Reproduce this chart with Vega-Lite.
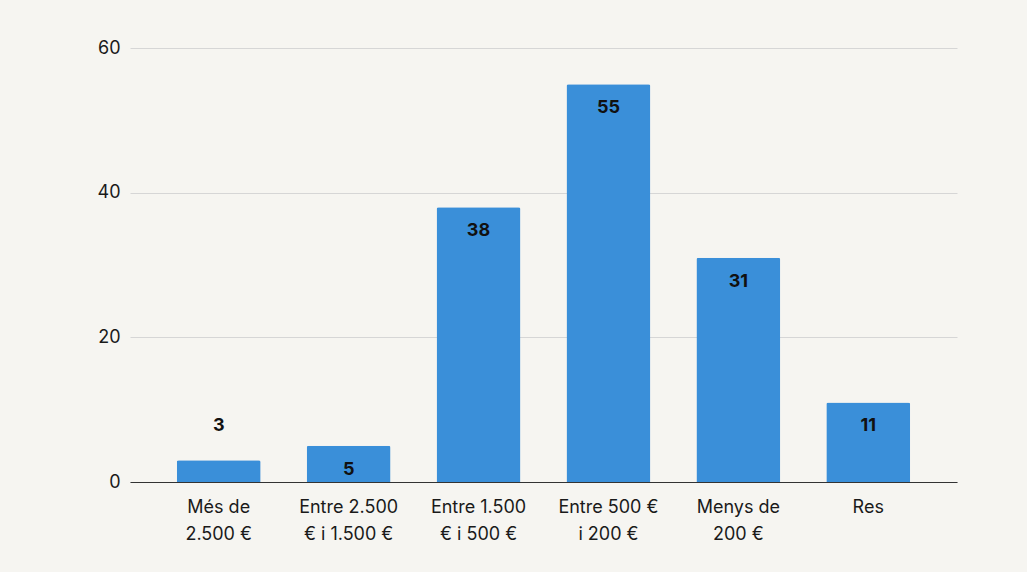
{
  "$schema": "https://vega.github.io/schema/vega-lite/v6.json",
  "width": 827,
  "height": 434,
  "autosize": {"type": "none"},
  "padding": {"left": 130, "top": 48, "right": 70, "bottom": 90},
  "background": "#f6f5f1",
  "config": {
    "view": {"stroke": null},
    "font": "Inter",
    "axis": {"labelFont": "Inter", "labelFontSize": 18, "labelColor": "#1a1a1a", "title": null}
  },
  "data": {
    "values": [
      {"category": "Més de 2.500 €", "value": 3},
      {"category": "Entre 2.500 € i 1.500 €", "value": 5},
      {"category": "Entre 1.500 € i 500 €", "value": 38},
      {"category": "Entre 500 € i 200 €", "value": 55},
      {"category": "Menys de 200 €", "value": 31},
      {"category": "Res", "value": 11}
    ]
  },
  "encoding": {
    "x": {
      "field": "category",
      "type": "nominal",
      "sort": null,
      "scale": {"paddingInner": 0.354, "paddingOuter": 0.36},
      "axis": {
        "labelAngle": 0,
        "ticks": false,
        "domainColor": "#333333",
        "domainWidth": 1.2,
        "labelPadding": 16,
        "labelLineHeight": 27,
        "labelExpr": "datum.label == 'Més de 2.500 €' ? ['Més de', '2.500 €'] : datum.label == 'Entre 2.500 € i 1.500 €' ? ['Entre 2.500', '€ i 1.500 €'] : datum.label == 'Entre 1.500 € i 500 €' ? ['Entre 1.500', '€ i 500 €'] : datum.label == 'Entre 500 € i 200 €' ? ['Entre 500 €', 'i 200 €'] : datum.label == 'Menys de 200 €' ? ['Menys de', '200 €'] : datum.label"
      }
    },
    "y": {
      "field": "value",
      "type": "quantitative",
      "scale": {"domain": [0, 60], "nice": false},
      "axis": {
        "values": [0, 20, 40, 60],
        "domain": false,
        "ticks": false,
        "labelPadding": 10,
        "gridColor": "#d6d6d6",
        "gridWidth": 1
      }
    }
  },
  "layer": [
    {"mark": {"type": "bar", "color": "#3a8fd9", "cornerRadiusTopLeft": 2, "cornerRadiusTopRight": 2}},
    {
      "transform": [{"filter": "datum.value >= 5"}],
      "mark": {"type": "text", "dy": 24, "fontSize": 18, "fontWeight": "bold", "color": "#111111", "baseline": "middle"},
      "encoding": {"text": {"field": "value", "type": "quantitative"}}
    },
    {
      "transform": [{"filter": "datum.value < 5"}],
      "mark": {"type": "text", "dy": -34, "fontSize": 18, "fontWeight": "bold", "color": "#111111", "baseline": "middle"},
      "encoding": {"text": {"field": "value", "type": "quantitative"}}
    }
  ]
}
